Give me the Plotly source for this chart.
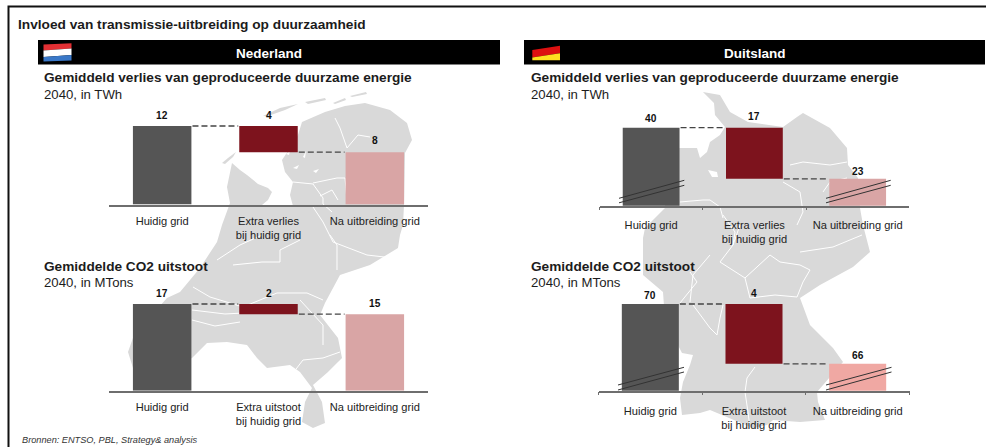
import plotly.graph_objects as go

W, H = 986, 447

# ---------- data ----------
categories_loss = ["Huidig grid", "Extra verlies<br>bij huidig grid", "Na uitbreiding grid"]
categories_co2 = ["Huidig grid", "Extra uitstoot<br>bij huidig grid", "Na uitbreiding grid"]
nl_loss_values = [12, 4, 8]
nl_co2_values = [17, 2, 15]
de_loss_values = [40, 17, 23]
de_co2_values = [70, 4, 66]
de_loss_axis_break = 14.05   # the German axes do not start at zero
de_co2_axis_break = 64.2

title_text = "Invloed van transmissie-uitbreiding op duurzaamheid"
source_text = "Bronnen: ENTSO, PBL, Strategy& analysis"
country_names = ["Nederland", "Duitsland"]
loss_title = "Gemiddeld verlies van geproduceerde duurzame energie"
loss_unit = "2040, in TWh"
co2_title = "Gemiddelde CO2 uitstoot"
co2_unit = "2040, in MTons"

# ---------- styling ----------
FONT = "Liberation Sans, Arial, sans-serif"
INK = "#1c1c1c"
GREY, RED, PINK, PINK2 = "#555555", "#7d131d", "#d9a5a5", "#f0a8a3"
MAP = "#d9d9d9"

def px(x):
    return x / W
def py(y):
    return 1 - y / H

def path(points, close=True):
    s = "M" + " L".join(f"{px(x):.5f},{py(y):.5f}" for x, y in points)
    return s + (" Z" if close else "")

shapes, annotations = [], []

def poly(points, color, layer="below"):
    shapes.append(dict(type="path", path=path(points), xref="paper", yref="paper",
                       fillcolor=color, line=dict(width=0), layer=layer))

def stroke(points, color="#ffffff", width=1.0, layer="below"):
    shapes.append(dict(type="path", path=path(points, False), xref="paper", yref="paper",
                       line=dict(color=color, width=width), layer=layer))

def label(x, y, text, size, bold=False, italic=False, color=INK, anchor="left"):
    if bold:
        text = f"<b>{text}</b>"
    if italic:
        text = f"<i>{text}</i>"
    annotations.append(dict(x=px(x), y=py(y), xref="paper", yref="paper", text=text, showarrow=False,
                            xanchor=anchor, yanchor="middle", borderpad=0,
                            font=dict(family=FONT, size=size, color=color)))

# ---------- background maps (decoration, page coordinates) ----------
nl_outline = [(282,160),(290,148),(298,135),(302,122),(325,112),(345,106),(365,103),(390,110),(407,123),(412,140),
              (405,153),(404,205),(403,225),(400,235),(398,248),(370,265),(340,275),(325,303),(320,315),(338,338),
              (342,358),(328,372),(313,385),(322,402),(325,423),(313,428),(302,422),(305,402),(312,388),(300,372),
              (290,365),(267,368),(257,358),(247,345),(227,342),(207,343),(192,358),(165,372),(133,368),(128,352),
              (134,335),(167,298),(180,292),(200,268),(217,242),(222,225),(230,203),(227,187),(232,163),(240,170),
              (247,175),(258,184),(268,188),(272,192),(268,200),(262,205),(293,206),(290,195),(293,182),(285,172)]
nl_islands = [[(222,163),(228,158),(236,152),(233,157),(225,164)], [(263,116),(280,108),(298,104),(285,110),(268,116)],
              [(333,103),(345,98),(346,100),(335,104)], [(350,96),(366,92),(367,94),(352,97)], [(305,102),(325,98),(326,100),(308,104)]]
nl_borders = [[(293,182),(313,184),(323,198),(323,204),(332,212)], [(335,118),(340,128),(347,148),(358,135),(370,137)],
              [(313,183),(337,178),(345,178),(347,200)], [(313,207),(323,222),(333,242),(367,255),(393,258)],
              [(193,287),(210,297),(243,307),(277,293),(307,293),(323,300)], [(293,373),(303,360),(323,358),(340,352)],
              [(330,235),(337,245),(337,270)], [(233,265),(262,262),(280,262),(280,250),(300,240)],
              [(217,260),(240,245),(262,235)], [(300,300),(323,325),(323,345)], [(192,310),(225,314),(262,312),(280,305)],
              [(192,320),(215,326),(240,322)], [(320,196),(332,190),(338,200)]]
nl_lakes = [[(286,154),(290,151),(289,155)], [(303,157),(306,151),(305,158)], [(293,168),(299,165),(297,169)],
            [(313,171),(319,169),(316,173)]]

de_outline = [(703,92),(720,95),(730,112),(748,122),(783,127),(797,117),(803,113),(830,128),(847,148),(848,165),(858,178),
              (860,208),(863,225),(870,252),(853,267),(820,285),(800,298),(810,325),(833,348),(843,362),(817,392),(818,402),
              (825,420),(800,422),(773,420),(767,425),(753,428),(710,410),(700,413),(682,415),(680,398),(683,382),(690,365),
              (693,355),(682,353),(665,320),(663,292),(643,275),(643,238),(645,228),(665,208),(665,150),(680,148),(697,148),
              (700,158),(707,152),(710,142),(720,135),(725,127),(715,115),(714,103)]
de_lakes = [[(708,170),(717,172),(718,177),(712,177)]]
de_borders = [[(783,182),(800,192),(803,212),(797,225)], [(823,192),(830,182),(847,178)],
              [(680,202),(703,200),(710,200),(720,207),(723,218)], [(790,165),(803,162),(830,165),(847,162)],
              [(755,367),(747,378),(745,392),(748,412),(750,428)], [(770,255),(780,262),(800,265),(810,270),(803,282),(797,297)],
              [(710,255),(693,275),(690,302)], [(693,305),(710,328),(717,335),(720,318),(723,305)],
              [(800,252),(833,247),(862,235)], [(740,225),(733,245),(720,262),(745,278),(770,255)],
              [(680,303),(697,282),(690,272)], [(723,215),(735,232),(733,245)], [(745,278),(750,298),(775,295),(797,297)]]

for pts in [nl_outline] + nl_islands + [de_outline]:
    poly(pts, MAP)
for pts in nl_lakes + de_lakes:
    poly(pts, "#ffffff")
for pts in nl_borders + de_borders:
    stroke(pts)

# ---------- frame, headers, flags ----------
stroke([(8.5, 447), (8.5, 6.5), (986, 6.5)], "#111111", 2, "above")
poly([(38, 40), (500, 40), (500, 64.5), (38, 64.5)], "#000000", "above")
poly([(524, 40), (985, 40), (985, 64.5), (524, 64.5)], "#000000", "above")
poly([(43.5, 44.5), (71.5, 43.2), (71.5, 48.5), (43.5, 50.5)], "#e23034", "above")
poly([(43.5, 50.5), (71.5, 48.5), (71.5, 55), (43.5, 57)], "#ffffff", "above")
poly([(43.5, 57), (71.5, 55), (71.5, 60.5), (43.5, 61.5)], "#3a78c8", "above")
poly([(532.3, 50), (560, 45.7), (560, 53.3), (532.3, 57.5)], "#dd1010", "above")
poly([(532.3, 57.5), (560, 53.3), (560, 60.3), (532.3, 60.3)], "#ffe020", "above")

# ---------- texts ----------
label(17, 24, title_text, 13.7, bold=True)
label(269, 53, country_names[0], 13.5, bold=True, color="#ffffff", anchor="center")
label(754.5, 53, country_names[1], 13.5, bold=True, color="#ffffff", anchor="center")
for x0 in (43, 529.5):
    label(x0, 78, loss_title, 13.65, bold=True)
    label(x0, 94, loss_unit, 13.2)
    label(x0, 266, co2_title, 13.65, bold=True)
    label(x0, 282, co2_unit, 13.2)
label(21, 440, source_text, 9.2, italic=True, color="#333333")

# ---------- panels ----------
panels = [
    dict(values=nl_loss_values, cats=categories_loss, cut=0, left=109, right=428, base=204.5, top=126,
         colors=[GREY, RED, PINK], ticks=False, shifts=[4, 4, 5], standoff=5),
    dict(values=nl_co2_values, cats=categories_co2, cut=0, left=109, right=428, base=390.7, top=304,
         colors=[GREY, RED, PINK], ticks=False, shifts=[4, 4, 4], standoff=5),
    dict(values=de_loss_values, cats=categories_loss, cut=de_loss_axis_break, left=599.5, right=909.3, base=205.7, top=127.7,
         colors=[GREY, RED, PINK], ticks=True, shifts=[3, 5, 1], standoff=8),
    dict(values=de_co2_values, cats=categories_co2, cut=de_co2_axis_break, left=598.5, right=909.5, base=390.7, top=304,
         colors=[GREY, RED, PINK2], ticks=True, shifts=[2, 4, 2], standoff=9),
]

fig = go.Figure()
layout = {}
HEADROOM = 10

for i, p in enumerate(panels, start=1):
    xa, ya = ("x" if i == 1 else f"x{i}"), ("y" if i == 1 else f"y{i}")
    xk, yk = ("xaxis" if i == 1 else f"xaxis{i}"), ("yaxis" if i == 1 else f"yaxis{i}")
    start, extra, after = p["values"]
    unit = (p["base"] - p["top"]) / (start - p["cut"])
    fig.add_trace(go.Bar(x=p["cats"], y=[start, extra, after], base=[0, after, 0],
                         marker=dict(color=p["colors"], line=dict(width=0)), width=0.55,
                         xaxis=xa, yaxis=ya, showlegend=False, hoverinfo="skip"))
    layout[xk] = dict(domain=[px(p["left"]), px(p["right"])], anchor=ya, type="category",
                      range=[-0.5, 2.5], showgrid=False, zeroline=False, showline=True,
                      linecolor="#6e6e6e", linewidth=1.5, fixedrange=True,
                      tickson="boundaries", ticks="outside" if p["ticks"] else "",
                      ticklen=3, tickwidth=1, tickcolor="#6e6e6e",
                      ticklabelstandoff=p["standoff"],
                      tickfont=dict(family=FONT, size=11.1, color="#222222"))
    layout[yk] = dict(domain=[py(p["base"]), py(p["top"] - HEADROOM)], anchor=xa, visible=False,
                      range=[p["cut"], start + HEADROOM / unit], fixedrange=True)
    # waterfall connectors
    for a, b, level in [(0.285, 0.715, start), (1.285, 1.715, after)]:
        shapes.append(dict(type="line", xref=xa, yref=ya, x0=a, x1=b, y0=level, y1=level,
                           line=dict(color="#444444", width=1.3, dash="6px,3px"), layer="above"))
    # value labels
    tops = [start, start, after]
    for k, (v, t, s) in enumerate(zip(p["values"], tops, p["shifts"])):
        annotations.append(dict(x=k, y=t, xref=xa, yref=ya, text=f"<b>{v}</b>", showarrow=False,
                                yanchor="bottom", yshift=s, borderpad=0,
                                font=dict(family=FONT, size=10.2, color="#111111")))

# axis-break marks on the German bars (page coordinates)
for xs, ys in [((619, 684.3), (198.3, 180.3)), ((619, 684.3), (202.8, 185.3)),
               ((826, 890.7), (198.3, 180.3)), ((826, 890.7), (202.8, 185.3)),
               ((618, 684), (385, 367.3)), ((618, 684), (390, 372)),
               ((826, 891.5), (385, 367.3)), ((826, 891.5), (390, 372))]:
    stroke(list(zip(xs, ys)), "#333333", 1, "above")

fig.update_layout(width=W, height=H, margin=dict(l=0, r=0, t=0, b=0, pad=0), autosize=False,
                  paper_bgcolor="#ffffff", plot_bgcolor="rgba(0,0,0,0)", showlegend=False,
                  bargap=0.45, shapes=shapes, annotations=annotations, **layout)

fig.write_html("out.html", config=dict(displayModeBar=False),
               post_script="document.body.style.margin='0';document.body.style.overflow='hidden';")
